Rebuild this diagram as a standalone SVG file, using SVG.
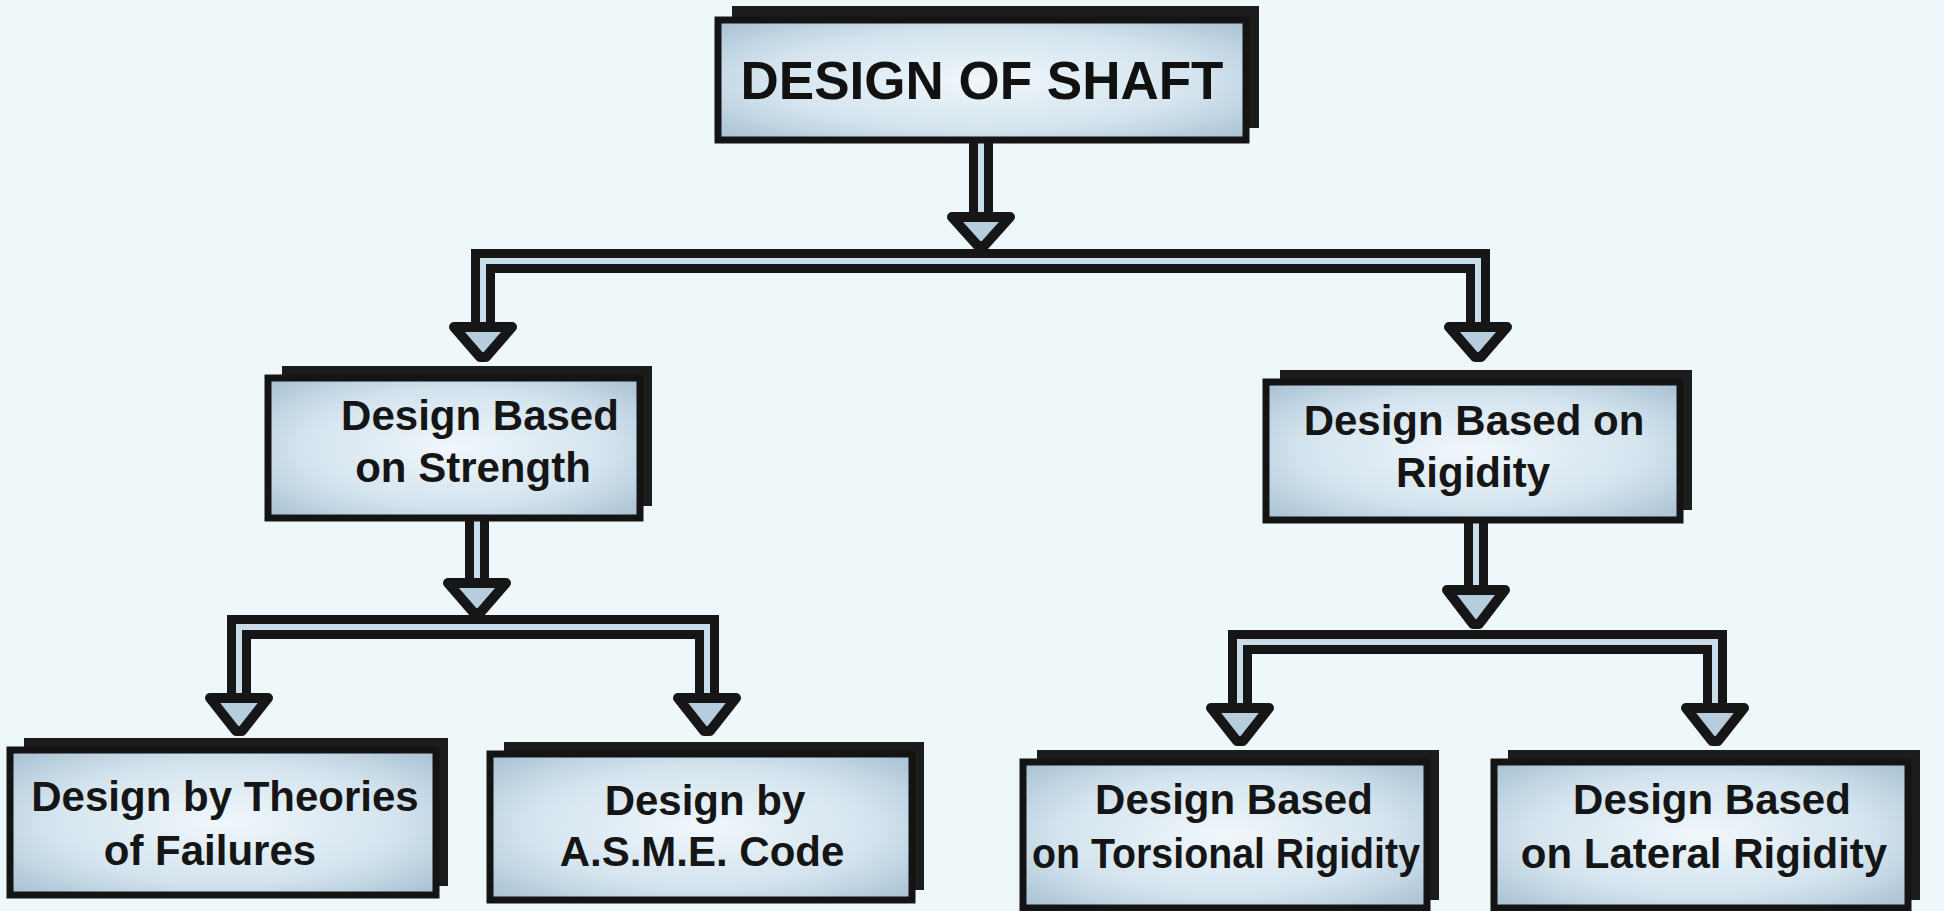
<svg xmlns="http://www.w3.org/2000/svg" width="1944" height="911" viewBox="0 0 1944 911">
<defs>
<radialGradient id="fill" cx="50%" cy="50%" r="70%">
<stop offset="0" stop-color="#f0f7fb"/>
<stop offset="0.6" stop-color="#d3e3ee"/>
<stop offset="1" stop-color="#a7c0d2"/>
</radialGradient>
<style>
.back{fill:#1c1c1c;}
.front{fill:url(#fill);stroke:#141414;stroke-width:7;}
.t{font-family:"Liberation Sans",Arial,sans-serif;font-size:42px;font-weight:bold;fill:#151515;text-anchor:middle;}
.tb{font-family:"Liberation Sans",Arial,sans-serif;font-size:53px;font-weight:bold;fill:#111;text-anchor:middle;}
.pipeo{fill:none;stroke:#161616;stroke-width:24;stroke-linejoin:miter;}
.pipei{fill:none;stroke:#c9dce8;stroke-width:6;stroke-linejoin:miter;}
.head{fill:#b6cddd;stroke:#161616;stroke-width:10;stroke-linejoin:round;}
</style>
</defs>
<rect width="1944" height="911" fill="#eef8fb"/>

<g id="connectors">
<path class="pipeo" d="M981 140 V216"/>
<path class="pipeo" d="M483 330 V261 H1478 V330"/>
<path class="pipeo" d="M477 518 V585"/>
<path class="pipeo" d="M239 700 V627 H707 V700"/>
<path class="pipeo" d="M1476 520 V592"/>
<path class="pipeo" d="M1240 710 V642 H1715 V710"/>
<path class="pipei" d="M981 140 V216"/>
<path class="pipei" d="M483 330 V261 H1478 V330"/>
<path class="pipei" d="M477 518 V585"/>
<path class="pipei" d="M239 700 V627 H707 V700"/>
<path class="pipei" d="M1476 520 V592"/>
<path class="pipei" d="M1240 710 V642 H1715 V710"/>
<polygon class="head" points="952,217 1010,217 984,246 978,246"/>
<polygon class="head" points="454,327 512,327 486,357 480,357"/>
<polygon class="head" points="1449,327 1507,327 1481,357 1475,357"/>
<polygon class="head" points="448,583 506,583 480,613 474,613"/>
<polygon class="head" points="210,698 268,698 242,731 236,731"/>
<polygon class="head" points="678,698 736,698 710,731 704,731"/>
<polygon class="head" points="1447,590 1505,590 1479,624 1473,624"/>
<polygon class="head" points="1211,708 1269,708 1243,741 1237,741"/>
<polygon class="head" points="1686,708 1744,708 1718,741 1712,741"/>
</g>

<g id="n-shaft">
<rect class="back" x="732" y="6" width="527" height="122"/>
<rect class="front" x="718" y="20" width="528" height="120"/>
<text class="tb" x="982" y="99">DESIGN OF SHAFT</text>
</g>

<g id="n-strength">
<rect class="back" x="282" y="366" width="370" height="140"/>
<rect class="front" x="268" y="378" width="372" height="140"/>
<text class="t" x="480" y="430">Design Based</text>
<text class="t" x="473" y="482">on Strength</text>
</g>

<g id="n-rigidity">
<rect class="back" x="1280" y="370" width="412" height="140"/>
<rect class="front" x="1266" y="382" width="414" height="138"/>
<text class="t" x="1474" y="435">Design Based on</text>
<text class="t" x="1473" y="487">Rigidity</text>
</g>

<g id="n-theories">
<rect class="back" x="24" y="738" width="424" height="148"/>
<rect class="front" x="10" y="750" width="426" height="145"/>
<text class="t" x="225" y="811">Design by Theories</text>
<text class="t" x="210" y="865">of Failures</text>
</g>

<g id="n-asme">
<rect class="back" x="504" y="742" width="420" height="148"/>
<rect class="front" x="490" y="754" width="422" height="146"/>
<text class="t" x="705" y="815">Design by</text>
<text class="t" x="702" y="866">A.S.M.E. Code</text>
</g>

<g id="n-torsional">
<rect class="back" x="1037" y="750" width="402" height="150"/>
<rect class="front" x="1023" y="762" width="404" height="146"/>
<text class="t" x="1234" y="814">Design Based</text>
<text class="t" x="1226" y="868" textLength="388" lengthAdjust="spacingAndGlyphs">on Torsional Rigidity</text>
</g>

<g id="n-lateral">
<rect class="back" x="1508" y="750" width="412" height="150"/>
<rect class="front" x="1494" y="762" width="414" height="146"/>
<text class="t" x="1712" y="814">Design Based</text>
<text class="t" x="1704" y="868">on Lateral Rigidity</text>
</g>
</svg>
